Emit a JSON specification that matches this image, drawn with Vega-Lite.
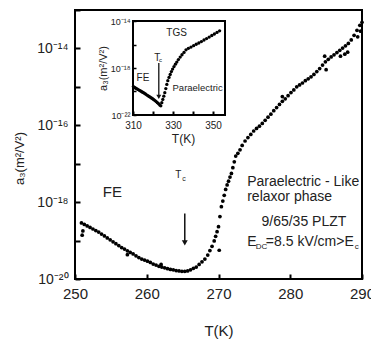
{
  "$schema": "https://vega.github.io/schema/vega-lite/v6.json",
  "autosize": "none",
  "width": 287,
  "height": 269,
  "padding": {"left": 75, "top": 10, "right": 9, "bottom": 70},
  "background": "white",
  "config": {
    "font": "Liberation Sans",
    "view": {"stroke": "black", "strokeWidth": 2},
    "axis": {"grid": false, "labelColor": "#222", "titleColor": "#222", "tickColor": "black", "domainColor": "black", "titleFontWeight": "normal", "labelFlush": false, "labelOverlap": false}
  },
  "layer": [
    {
      "layer": [
        {
          "data": {"values": [
            {"T":250.9,"a":2.88e-19},{"T":251.0,"a":1.38e-19},{"T":251.1,"a":1.78e-19},{"T":251.3,"a":2.63e-19},{"T":251.7,"a":2.40e-19},{"T":252.1,"a":2.19e-19},{"T":252.5,"a":2.00e-19},{"T":252.9,"a":1.82e-19},{"T":253.3,"a":1.66e-19},{"T":253.7,"a":1.48e-19},{"T":254.1,"a":1.32e-19},{"T":254.5,"a":1.17e-19},{"T":254.9,"a":1.05e-19},{"T":255.3,"a":9.3e-20},{"T":255.7,"a":8.3e-20},{"T":256.1,"a":7.4e-20},{"T":256.5,"a":6.6e-20},{"T":256.9,"a":6.0e-20},{"T":257.3,"a":5.4e-20},{"T":257.3,"a":4.3e-20},{"T":257.7,"a":4.9e-20},{"T":258.1,"a":4.5e-20},{"T":258.5,"a":4.0e-20},{"T":258.9,"a":3.6e-20},{"T":259.3,"a":3.3e-20},{"T":259.7,"a":3.1e-20},{"T":260.1,"a":2.9e-20},{"T":260.5,"a":2.7e-20},{"T":260.9,"a":2.45e-20},{"T":261.3,"a":2.3e-20},{"T":261.7,"a":2.14e-20},{"T":262.0,"a":2.4e-20},{"T":262.1,"a":2.04e-20},{"T":262.5,"a":1.95e-20},{"T":262.9,"a":1.86e-20},{"T":263.3,"a":1.78e-20},{"T":263.7,"a":1.74e-20},{"T":264.1,"a":1.66e-20},{"T":264.5,"a":1.62e-20},{"T":264.9,"a":1.58e-20},{"T":265.3,"a":1.58e-20},{"T":265.7,"a":1.62e-20},{"T":266.1,"a":1.74e-20},{"T":266.5,"a":1.9e-20},{"T":266.9,"a":2.04e-20},{"T":267.3,"a":2.4e-20},{"T":267.7,"a":2.8e-20},{"T":268.1,"a":3.3e-20},{"T":268.5,"a":4.2e-20},{"T":268.8,"a":5.5e-20},{"T":269.1,"a":7.1e-20},{"T":269.4,"a":9.8e-20},{"T":269.6,"a":1.29e-19},{"T":269.8,"a":1.70e-19},{"T":270.0,"a":2.29e-19},{"T":270.1,"a":5.6e-20},{"T":270.2,"a":4.2e-19},{"T":270.4,"a":7.6e-19},{"T":270.6,"a":1.07e-18},{"T":270.8,"a":1.51e-18},{"T":271.0,"a":2.14e-18},{"T":271.2,"a":2.8e-18},{"T":271.4,"a":3.5e-18},{"T":271.6,"a":4.5e-18},{"T":271.8,"a":5.6e-18},{"T":272.0,"a":7.9e-18},{"T":272.2,"a":1.12e-17},{"T":272.4,"a":1.58e-17},
            {"T":272.7,"a":1.86e-17},{"T":273.0,"a":2.3e-17},{"T":273.3,"a":3.0e-17},{"T":273.7,"a":3.9e-17},{"T":274.1,"a":4.8e-17},{"T":274.5,"a":5.8e-17},{"T":274.9,"a":7.1e-17},{"T":275.3,"a":8.3e-17},{"T":275.7,"a":9.5e-17},{"T":276.1,"a":1.12e-16},{"T":276.5,"a":1.35e-16},{"T":276.9,"a":1.62e-16},{"T":277.3,"a":1.95e-16},{"T":277.7,"a":2.4e-16},{"T":278.1,"a":2.9e-16},{"T":278.5,"a":3.5e-16},{"T":278.9,"a":4.2e-16},{"T":278.9,"a":5.6e-16},{"T":279.3,"a":4.9e-16},{"T":279.7,"a":5.9e-16},{"T":280.1,"a":7.1e-16},{"T":280.5,"a":8.3e-16},{"T":280.9,"a":1.0e-15},{"T":281.3,"a":1.12e-15},{"T":281.7,"a":1.26e-15},{"T":282.1,"a":1.45e-15},{"T":282.5,"a":1.62e-15},{"T":282.9,"a":1.82e-15},{"T":283.3,"a":2.1e-15},{"T":283.7,"a":2.5e-15},{"T":284.1,"a":3.0e-15},{"T":284.5,"a":3.7e-15},{"T":284.8,"a":6.3e-15},{"T":284.9,"a":4.5e-15},{"T":285.0,"a":2.8e-15},{"T":285.3,"a":5.2e-15},{"T":285.7,"a":6.0e-15},{"T":286.1,"a":6.8e-15},{"T":286.5,"a":7.8e-15},{"T":286.9,"a":8.9e-15},{"T":287.0,"a":6.3e-15},{"T":287.3,"a":1.02e-14},{"T":287.6,"a":7.1e-15},{"T":287.7,"a":1.17e-14},{"T":288.0,"a":8.0e-15},{"T":288.1,"a":1.35e-14},{"T":288.5,"a":1.66e-14},{"T":288.9,"a":2.2e-14},{"T":289.3,"a":2.95e-14},{"T":289.4,"a":2.0e-14},{"T":289.7,"a":4.0e-14},{"T":289.8,"a":2.8e-14},{"T":290.0,"a":4.8e-14}
          ]},
          "mark": {"type": "point", "filled": true, "size": 14, "color": "black", "opacity": 1},
          "encoding": {
            "x": {"field": "T", "type": "quantitative", "scale": {"domain": [250, 290]},
              "axis": {"orient": "bottom", "values": [250,255,260,265,270,275,280,285,290], "labelExpr": "datum.value % 10 == 0 ? datum.label : ''", "tickSize": -5, "tickWidth": 2, "domain": false, "labelFontSize": 15, "labelPadding": 12, "title": "T(K)", "titleFontSize": 15, "titlePadding": 22}},
            "y": {"field": "a", "type": "quantitative", "scale": {"type": "log", "domain": [1e-20, 1e-13]},
              "axis": {"orient": "left", "values": [1e-20,1e-19,1e-18,1e-17,1e-16,1e-15,1e-14,1e-13], "labelExpr": "round(log(datum.value)/LN10) == -20 ? '10⁻²⁰' : round(log(datum.value)/LN10) == -18 ? '10⁻¹⁸' : round(log(datum.value)/LN10) == -16 ? '10⁻¹⁶' : round(log(datum.value)/LN10) == -14 ? '10⁻¹⁴' : ''", "tickSize": -5, "tickWidth": 2, "domain": false, "labelFontSize": 14, "labelPadding": 12, "title": "a₃(m²/V²)", "titleFontSize": 13, "titlePadding": 10, "titleY": 148}}
          }
        },
        {
          "data": {"values": [{"label": "FE", "T": 255.2, "a": 1.8e-18}]},
          "mark": {"type": "text", "fontSize": 15, "color": "#222"},
          "encoding": {"x": {"field": "T", "type": "quantitative"}, "y": {"field": "a", "type": "quantitative"}, "text": {"field": "label"}}
        },
        {
          "data": {"values": [
            {"label": "Paraelectric - Like", "T": 274.0, "a": 3.3e-18},
            {"label": "relaxor phase", "T": 274.0, "a": 1.35e-18},
            {"label": "E", "T": 274.0, "a": 9.2e-20},
            {"label": "=8.5 kV/cm>E", "T": 276.6, "a": 9.2e-20}
          ]},
          "mark": {"type": "text", "fontSize": 14, "align": "left", "color": "#222"},
          "encoding": {"x": {"field": "T", "type": "quantitative"}, "y": {"field": "a", "type": "quantitative"}, "text": {"field": "label"}}
        },
        {
          "data": {"values": [{"label": "9/65/35 PLZT", "T": 281.9, "a": 3.0e-19}]},
          "mark": {"type": "text", "fontSize": 14, "color": "#222"},
          "encoding": {"x": {"field": "T", "type": "quantitative"}, "y": {"field": "a", "type": "quantitative"}, "text": {"field": "label"}}
        },
        {
          "data": {"values": [{"label": "DC", "T": 275.2, "a": 7.0e-20}, {"label": "c", "T": 289.0, "a": 7.0e-20}]},
          "mark": {"type": "text", "fontSize": 8, "align": "left", "color": "#222"},
          "encoding": {"x": {"field": "T", "type": "quantitative"}, "y": {"field": "a", "type": "quantitative"}, "text": {"field": "label"}}
        },
        {
          "data": {"values": [{"label": "T", "T": 264.4, "a": 5.0e-18}]},
          "mark": {"type": "text", "fontSize": 10, "color": "#222"},
          "encoding": {"x": {"field": "T", "type": "quantitative"}, "y": {"field": "a", "type": "quantitative"}, "text": {"field": "label"}}
        },
        {
          "data": {"values": [{"label": "c", "T": 265.2, "a": 4.0e-18}]},
          "mark": {"type": "text", "fontSize": 7, "color": "#222"},
          "encoding": {"x": {"field": "T", "type": "quantitative"}, "y": {"field": "a", "type": "quantitative"}, "text": {"field": "label"}}
        },
        {
          "data": {"values": [{"T": 265.3, "a": 5.1e-19, "a2": 9.5e-20}]},
          "mark": {"type": "rule", "color": "#111", "strokeWidth": 1.5},
          "encoding": {"x": {"field": "T", "type": "quantitative"}, "y": {"field": "a", "type": "quantitative"}, "y2": {"field": "a2"}}
        },
        {
          "data": {"values": [{"T": 265.3, "a": 8.7e-20}]},
          "mark": {"type": "point", "shape": "triangle-down", "filled": true, "size": 35, "color": "#111", "opacity": 1},
          "encoding": {"x": {"field": "T", "type": "quantitative"}, "y": {"field": "a", "type": "quantitative"}}
        }
      ]
    },
    {
      "layer": [
        {
          "data": {"values": [{"T": 310, "T2": 356, "a": 1e-22, "a2": 1e-14}]},
          "mark": {"type": "rect", "filled": false, "stroke": "black", "strokeWidth": 2},
          "encoding": {
            "x": {"field": "T", "type": "quantitative", "scale": {"domain": [310, 356], "range": [58, 158]},
              "axis": {"orient": "bottom", "offset": -164, "values": [310,320,330,340,350], "labelExpr": "datum.value % 20 == 10 ? datum.label : ''", "tickSize": -4, "tickWidth": 2, "domain": false, "labelFontSize": 10, "labelPadding": 9, "title": "T(K)", "titleFontSize": 12, "titlePadding": 3, "zindex": 1}},
            "x2": {"field": "T2"},
            "y": {"field": "a", "type": "quantitative", "scale": {"type": "log", "domain": [1e-22, 1e-14], "range": [105, 11]},
              "axis": {"orient": "left", "offset": -58, "values": [1e-22,1e-20,1e-18,1e-16,1e-14], "labelExpr": "round(log(datum.value)/LN10) == -22 ? '10⁻²²' : round(log(datum.value)/LN10) == -18 ? '10⁻¹⁸' : round(log(datum.value)/LN10) == -14 ? '10⁻¹⁴' : ''", "tickSize": -3, "tickWidth": 1.5, "domain": false, "labelFontSize": 9, "labelPadding": 6, "title": "a₃(m²/V²)", "titleFontSize": 11, "titlePadding": 2, "zindex": 1}},
            "y2": {"field": "a2"}
          }
        },
        {
          "data": {"values": [
            {"T":310.2,"a":2.6e-20},{"T":310.8,"a":2.2e-20},{"T":311.4,"a":1.9e-20},{"T":312.0,"a":1.66e-20},{"T":312.6,"a":1.45e-20},{"T":313.2,"a":1.26e-20},{"T":313.8,"a":1.10e-20},{"T":314.4,"a":9.5e-21},{"T":315.0,"a":8.3e-21},{"T":315.6,"a":7.2e-21},{"T":316.2,"a":6.2e-21},{"T":316.8,"a":5.2e-21},{"T":317.4,"a":4.5e-21},{"T":318.0,"a":3.8e-21},{"T":318.6,"a":3.3e-21},{"T":319.2,"a":2.8e-21},{"T":319.8,"a":2.4e-21},{"T":320.4,"a":2.0e-21},{"T":321.0,"a":1.7e-21},{"T":321.6,"a":1.38e-21},{"T":322.2,"a":1.12e-21},{"T":322.8,"a":9.1e-22},{"T":323.4,"a":7.1e-22},{"T":323.9,"a":6.0e-22},{"T":324.4,"a":1.12e-21},{"T":324.9,"a":2.1e-21},{"T":325.4,"a":4.0e-21},{"T":325.9,"a":7.9e-21},{"T":326.4,"a":1.78e-20},{"T":326.9,"a":4.0e-20},{"T":327.4,"a":8.3e-20},{"T":328.0,"a":1.58e-19},{"T":328.6,"a":2.8e-19},{"T":329.2,"a":5.0e-19},{"T":329.8,"a":8.1e-19},{"T":330.5,"a":1.32e-18},{"T":331.2,"a":2.1e-18},{"T":331.9,"a":3.2e-18},{"T":332.7,"a":5.2e-18},{"T":333.6,"a":8.5e-18},{"T":334.5,"a":1.35e-17},{"T":335.5,"a":2.1e-17},{"T":336.5,"a":3.5e-17},{"T":337.7,"a":4.7e-17},{"T":339.0,"a":6.0e-17},{"T":340.3,"a":7.9e-17},{"T":341.6,"a":1.05e-16},{"T":342.9,"a":1.35e-16},{"T":344.2,"a":1.78e-16},{"T":345.5,"a":2.4e-16},{"T":346.8,"a":3.2e-16},{"T":348.1,"a":4.3e-16},{"T":349.4,"a":5.8e-16},{"T":350.7,"a":7.8e-16},{"T":352.0,"a":1.07e-15},{"T":353.3,"a":1.45e-15}
          ]},
          "mark": {"type": "point", "filled": true, "size": 11, "color": "black", "opacity": 1},
          "encoding": {"x": {"field": "T", "type": "quantitative"}, "y": {"field": "a", "type": "quantitative"}}
        },
        {
          "data": {"values": [{"label": "TGS", "T": 331.8, "a": 9.5e-16}]},
          "mark": {"type": "text", "fontSize": 10, "color": "#222"},
          "encoding": {"x": {"field": "T", "type": "quantitative"}, "y": {"field": "a", "type": "quantitative"}, "text": {"field": "label"}}
        },
        {
          "data": {"values": [{"label": "FE", "T": 311.8, "a": 1.4e-19}]},
          "mark": {"type": "text", "fontSize": 10, "align": "left", "color": "#222"},
          "encoding": {"x": {"field": "T", "type": "quantitative"}, "y": {"field": "a", "type": "quantitative"}, "text": {"field": "label"}}
        },
        {
          "data": {"values": [{"label": "Paraelectric", "T": 342.3, "a": 2e-20}]},
          "mark": {"type": "text", "fontSize": 9.5, "color": "#222"},
          "encoding": {"x": {"field": "T", "type": "quantitative"}, "y": {"field": "a", "type": "quantitative"}, "text": {"field": "label"}}
        },
        {
          "data": {"values": [{"label": "T", "T": 322.1, "a": 7.1e-18}]},
          "mark": {"type": "text", "fontSize": 10, "color": "#222"},
          "encoding": {"x": {"field": "T", "type": "quantitative"}, "y": {"field": "a", "type": "quantitative"}, "text": {"field": "label"}}
        },
        {
          "data": {"values": [{"label": "c", "T": 323.8, "a": 4.8e-18}]},
          "mark": {"type": "text", "fontSize": 6, "color": "#222"},
          "encoding": {"x": {"field": "T", "type": "quantitative"}, "y": {"field": "a", "type": "quantitative"}, "text": {"field": "label"}}
        },
        {
          "data": {"values": [{"T": 322.9, "a": 2.7e-18, "a2": 4.0e-21}]},
          "mark": {"type": "rule", "color": "#111", "strokeWidth": 1.3},
          "encoding": {"x": {"field": "T", "type": "quantitative"}, "y": {"field": "a", "type": "quantitative"}, "y2": {"field": "a2"}}
        },
        {
          "data": {"values": [{"T": 322.9, "a": 3.5e-21}]},
          "mark": {"type": "point", "shape": "triangle-down", "filled": true, "size": 25, "color": "#111", "opacity": 1},
          "encoding": {"x": {"field": "T", "type": "quantitative"}, "y": {"field": "a", "type": "quantitative"}}
        }
      ]
    }
  ],
  "resolve": {"scale": {"x": "independent", "y": "independent"}, "axis": {"x": "independent", "y": "independent"}}
}
